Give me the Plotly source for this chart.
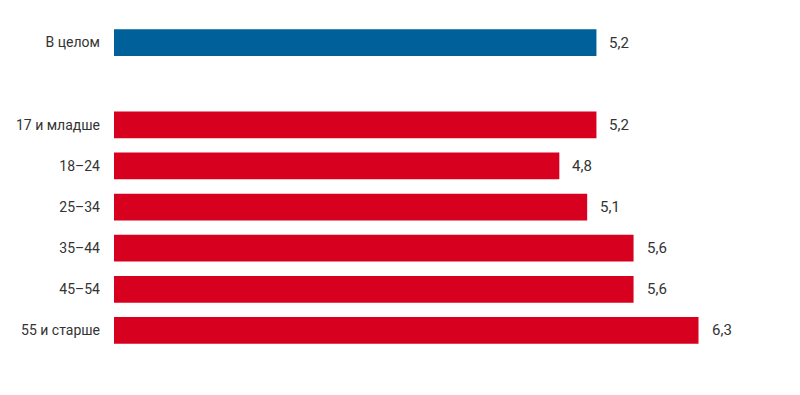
import plotly.graph_objects as go

categories = ["В целом", "17 и младше", "18–24", "25–34", "35–44", "45–54", "55 и старше"]
values = [5.2, 5.2, 4.8, 5.1, 5.6, 5.6, 6.3]
colors = ["#00609a", "#d7001f", "#d7001f", "#d7001f", "#d7001f", "#d7001f", "#d7001f"]
spacer = " "
category_order = [categories[0], spacer] + categories[1:]

labels = [f"{v:.1f}".replace(".", ",") for v in values]

fig = go.Figure()
fig.add_trace(go.Bar(
    x=values, y=categories, orientation="h",
    marker=dict(color=colors, line=dict(width=0)),
    width=0.65, hoverinfo="skip", cliponaxis=False,
))

for v, c, t in zip(values, categories, labels):
    fig.add_annotation(x=v, y=c, text=t, showarrow=False, xanchor="left",
                       xshift=11, font=dict(family="Roboto", size=15, color="#333333"))

fig.update_layout(
    width=792, height=387,
    margin=dict(l=106, r=18, t=14, b=44, autoexpand=False),
    paper_bgcolor="white", plot_bgcolor="white",
    showlegend=False,
    xaxis=dict(range=[0, 7.2], visible=False, fixedrange=True, automargin=False),
    yaxis=dict(categoryorder="array", categoryarray=category_order,
               type="category", autorange="reversed", automargin=False,
               showgrid=False, zeroline=False, showline=False, ticks="",
               ticklabelstandoff=13,
               tickfont=dict(family="Roboto", size=14, color="#333333")),
)
fig.write_html("out.html")
